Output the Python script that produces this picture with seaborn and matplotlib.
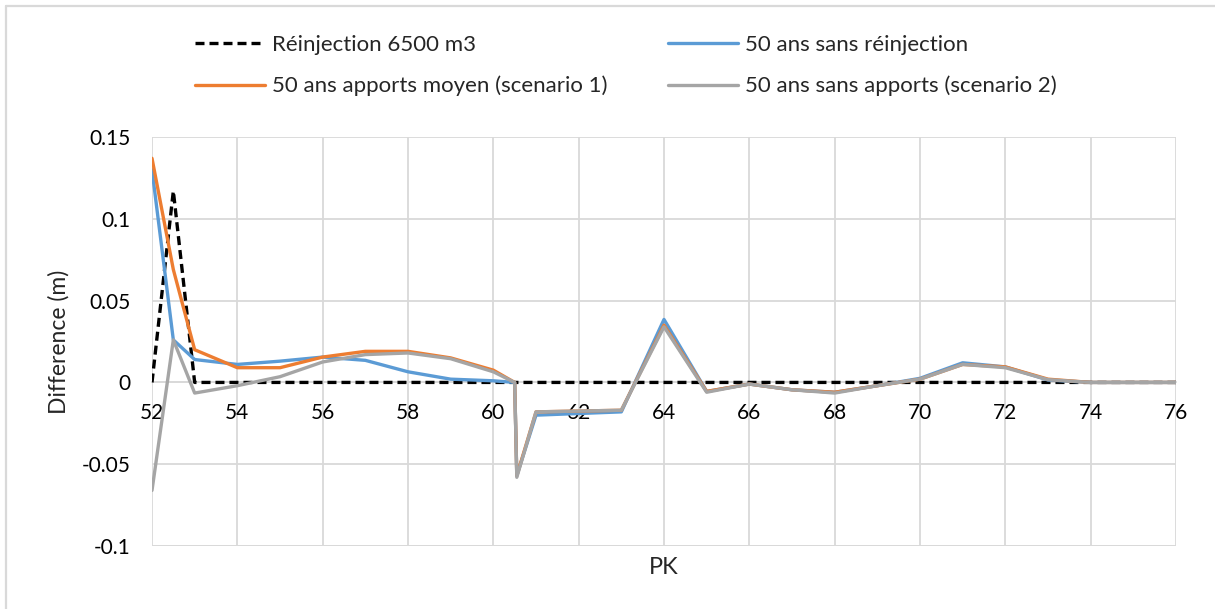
import matplotlib
matplotlib.use("Agg")
import matplotlib.pyplot as plt
import matplotlib.lines as mlines
import seaborn as sns

# --- Données ---
PK = [52, 52.5, 53, 54, 55, 56, 57, 58, 59, 60, 60.5, 60.55, 61, 62, 63,
      64, 65, 66, 67, 68, 69, 70, 71, 72, 73, 74, 75, 76]
reinjection = [0, 0.117, 0, 0, 0, 0, 0, 0, 0, 0, 0, 0, 0, 0, 0,
               0, 0, 0, 0, 0, 0, 0, 0, 0, 0, 0, 0, 0]
sans_reinjection = [0.130, 0.026, 0.014, 0.011, 0.013, 0.0155, 0.0135, 0.0065, 0.002, 0.001, 0, -0.057, -0.020, -0.019, -0.018,
                    0.0385, -0.0055, -0.001, -0.0045, -0.006, -0.002, 0.0025, 0.012, 0.0095, 0.0015, 0, 0, 0]
apports_moyen = [0.137, 0.069, 0.020, 0.009, 0.009, 0.0155, 0.019, 0.019, 0.015, 0.0075, 0, -0.057, -0.018, -0.0175, -0.017,
                 0.035, -0.0055, -0.001, -0.0045, -0.006, -0.002, 0.002, 0.011, 0.0095, 0.002, 0, 0, 0]
sans_apports = [-0.066, 0.026, -0.0065, -0.002, 0.0035, 0.0125, 0.017, 0.018, 0.0145, 0.0065, 0, -0.058, -0.018, -0.0175, -0.017,
                0.034, -0.006, -0.001, -0.0045, -0.0065, -0.002, 0.002, 0.011, 0.009, 0.0017, 0, 0, 0]

X_TICKS = list(range(52, 77, 2))
Y_TICKS = [-0.1, -0.05, 0, 0.05, 0.1, 0.15]
Y_TICK_LABELS = ["-0.1", "-0.05", "0", "0.05", "0.1", "0.15"]
LABELS = ["Réinjection 6500 m3", "50 ans sans réinjection",
          "50 ans apports moyen (scenario 1)", "50 ans sans apports (scenario 2)"]

GRID = "#D9D9D9"

sns.set_style("white")
plt.rcParams['font.family'] = ['Lato', 'DejaVu Sans']

fig = plt.figure(figsize=(12.15, 6.09), dpi=100)
ax = fig.add_axes([0.1251, 0.1034, 0.9679 - 0.1251, 0.775 - 0.1034])

sns.lineplot(x=PK, y=reinjection, ax=ax, color="black", linewidth=2.4,
             linestyle=(0, (2.7, 1.5)), estimator=None, sort=False, zorder=2.6)
sns.lineplot(x=PK, y=sans_reinjection, ax=ax, color="#5B9BD5", linewidth=2.4,
             estimator=None, sort=False, zorder=3)
sns.lineplot(x=PK, y=apports_moyen, ax=ax, color="#ED7D31", linewidth=2.4,
             estimator=None, sort=False, zorder=4)
sns.lineplot(x=PK, y=sans_apports, ax=ax, color="#A5A5A5", linewidth=2.4,
             estimator=None, sort=False, zorder=5)

lines = ax.get_lines()
leg_kw = dict(frameon=False, fontsize=16, handlelength=3.15, handletextpad=0.3,
              labelspacing=0.95, borderpad=0, borderaxespad=0, loc="center left")
fig.legend([lines[0], lines[2]], [LABELS[0], LABELS[2]],
           bbox_to_anchor=(195 / 1215, 1 - 65.5 / 609), **leg_kw)
fig.legend([lines[1], lines[3]], [LABELS[1], LABELS[3]],
           bbox_to_anchor=(668 / 1215, 1 - 65.5 / 609), **leg_kw)

ax.set_xlim(52, 76)
ax.set_ylim(-0.1, 0.15)
ax.set_xticks(X_TICKS)
ax.set_yticks(Y_TICKS)
ax.set_yticklabels(Y_TICK_LABELS)
ax.grid(True, color=GRID, linewidth=1.3)
for s in ["top", "right", "left"]:
    ax.spines[s].set_visible(False)
ax.spines["bottom"].set_position(("data", 0))
ax.spines["bottom"].set_color(GRID)
ax.spines["bottom"].set_linewidth(1.3)
ax.tick_params(axis="both", length=0, labelsize=15, colors="black")
ax.tick_params(axis="x", pad=15)
ax.tick_params(axis="y", pad=15.5)
ax.axhline(-0.1, color=GRID, linewidth=1.3, zorder=0)

ax.set_xlabel("PK", fontsize=17)
ax.xaxis.set_label_coords(0.5, -0.028)
ax.set_ylabel("Difference (m)", fontsize=16.5)
ax.yaxis.set_label_coords(-0.080, 0.5)

# bordure de la zone du graphique (gauche et haut)
fig.add_artist(mlines.Line2D([6 / 1215, 6 / 1215], [0, 1 - 6 / 609], transform=fig.transFigure,
                             color=GRID, linewidth=1.6))
fig.add_artist(mlines.Line2D([6 / 1215, 1], [1 - 6 / 609, 1 - 6 / 609], transform=fig.transFigure,
                             color=GRID, linewidth=1.6))

fig.savefig("out.png", dpi=100)
